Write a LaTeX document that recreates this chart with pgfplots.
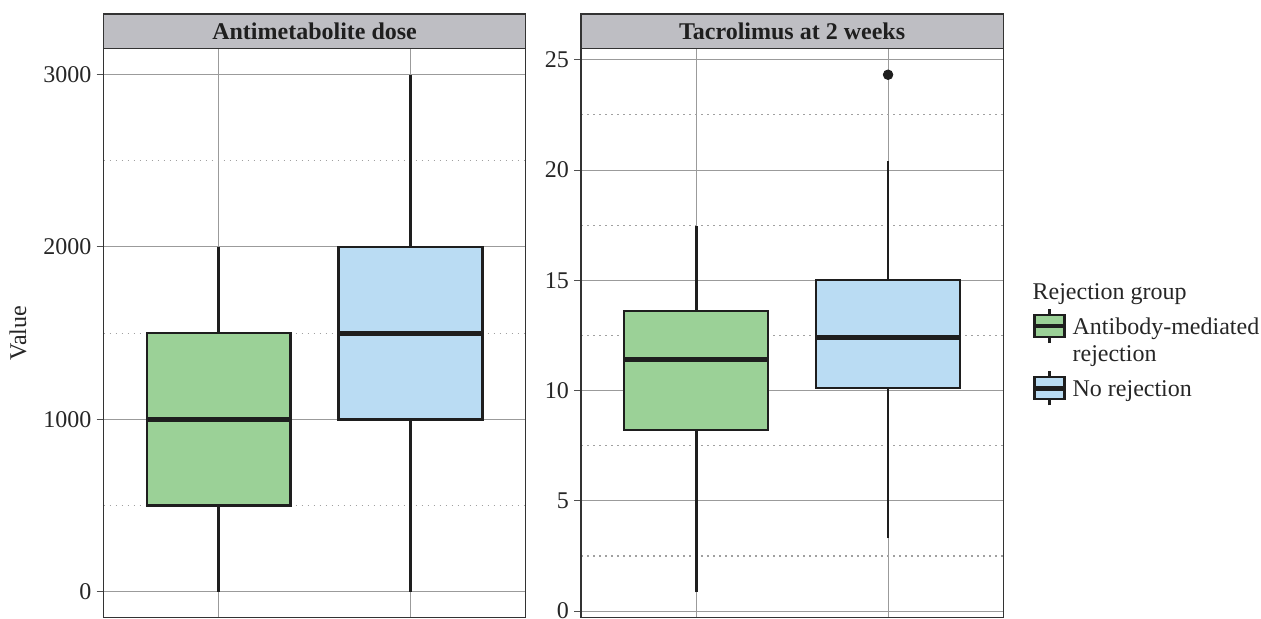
\documentclass[border=0pt]{standalone}
\usepackage{fontspec}
\setmainfont{Liberation Serif}
\usepackage{pgfplots}
\pgfplotsset{compat=1.18}

\definecolor{amrgreen}{RGB}{155,209,151}
\definecolor{norejblue}{RGB}{186,220,243}
\definecolor{boxline}{RGB}{30,30,30}
\definecolor{panelframe}{RGB}{51,51,51}
\definecolor{stripfill}{RGB}{190,190,195}
\definecolor{gridmajor}{RGB}{155,155,155}
\definecolor{gridminor}{RGB}{160,160,160}
\definecolor{tickgray}{RGB}{80,80,80}

% legend glyph: a small box with whisker stubs and a median bar
\newcommand\boxkey[1]{%
  \draw[boxline, line width=1.1pt] (7.5pt,-4.5pt) -- (7.5pt,12.5pt);
  \draw[boxline, line width=1.1pt, fill=#1] (0pt,-1.5pt) rectangle (15pt,9.5pt);
  \draw[boxline, line width=2.2pt] (0pt,4pt) -- (15pt,4pt);
}

% one box: #1 position, #2 lower whisker, #3 Q1, #4 median, #5 Q3, #6 upper whisker, #7 fill
\newcommand\boxat[7]{%
  \pgfmathsetmacro\bl{#1-0.375}\pgfmathsetmacro\br{#1+0.375}%
  \edef\doboxes{%
    \noexpand\addplot[boxline, line width=1.4pt, forget plot] coordinates {(#1,#2) (#1,#3)};
    \noexpand\addplot[boxline, line width=1.4pt, forget plot] coordinates {(#1,#5) (#1,#6)};
    \noexpand\addplot[draw=boxline, fill=#7, line width=1.15pt, line join=miter, forget plot]
      coordinates {(\bl,#3) (\br,#3) (\br,#5) (\bl,#5)} -- cycle;
    \noexpand\addplot[boxline, line width=2.5pt, forget plot] coordinates {(\bl,#4) (\br,#4)};
  }%
  \doboxes
}

\pgfplotsset{
  facet/.style={
    scale only axis, width=211.1pt, height=284.5pt,
    anchor=south west, clip=false,
    xmin=0.4, xmax=2.6, xtick={1,2}, xticklabels={},
    major x tick style={draw=none},
    ytick pos=left,
    xmajorgrids, ymajorgrids, yminorgrids, minor y tick num=1,
    major grid style={gridmajor, line width=0.5pt},
    minor grid style={gridminor, line width=0.6pt, dash pattern=on 0.9pt off 2.1pt},
    minor y tick style={draw=none},
    major y tick style={tickgray, line width=0.5pt},
    tick align=outside, major tick length=3.5pt,
    axis line style={panelframe, line width=0.6pt},
    ticklabel style={font=\fontsize{12}{14}\selectfont, text=black!85},
    yticklabel style={xshift=1pt},
    /pgf/number format/assume math mode=true,
    /pgf/number format/1000 sep={},
    every axis title shift=0pt,
    title style={at={(0.5,1)}, anchor=south, yshift=0pt,
      fill=stripfill, draw=panelframe, line width=0.6pt,
      minimum width=211.1pt, minimum height=17.35pt, inner sep=0pt, outer sep=0pt,
      text height=8.3pt, text depth=0pt,
      font=\bfseries\fontsize{12}{14}\selectfont, text=black!88},
  },
}

\begin{document}
\begin{tikzpicture}
\path[use as bounding box] (0,0) rectangle (630.5pt,309pt);

% left panel: antimetabolite dose
\begin{axis}[facet, at={(51.75pt,0.15pt)},
  title={Antimetabolite dose},
  ymin=-150, ymax=3150, ytick={0,1000,2000,3000},
  ylabel={Value},
  ylabel style={at={(axis description cs:-0.2025,0.5)}, anchor=center,
    font=\fontsize{12}{14}\selectfont, text=black!85}]
\boxat{1}{0}{500}{1000}{1500}{2000}{amrgreen}
\boxat{2}{0}{1000}{1500}{2000}{3000}{norejblue}
\end{axis}

% right panel: tacrolimus level at 2 weeks
\begin{axis}[facet, at={(290.5pt,0.15pt)},
  title={Tacrolimus at 2 weeks},
  ymin=-0.3, ymax=25.5, ytick={0,5,10,15,20,25},
  legend style={at={(axis description cs:1.0687,0.5443)}, anchor=north west,
    draw=none, fill=none, inner sep=0pt, outer sep=0pt, row sep=0pt,
    cells={anchor=base west},
    nodes={inner sep=0pt, text=black!85, text height=8.5pt, text depth=2.6pt},
    /tikz/every odd column/.style={column sep=3pt},
    font=\fontsize{12}{13}\selectfont}]
\boxat{1}{0.85}{8.22}{11.42}{13.6}{17.48}{amrgreen}
\boxat{2}{3.3}{10.12}{12.4}{15.0}{20.4}{norejblue}
\addplot[only marks, mark=*, mark size=2.4pt, color=boxline, forget plot]
  coordinates {(2,24.32)};
\addlegendimage{legend image code/.code={\boxkey{amrgreen}}}
\addlegendentry{Antibody-mediated}
\addlegendimage{legend image code/.code={}}
\addlegendentry[text depth=4.5pt]{rejection}
\addlegendimage{legend image code/.code={\boxkey{norejblue}}}
\addlegendentry{No rejection}
\node[anchor=base west, inner sep=0pt, font=\fontsize{12}{14}\selectfont, text=black!85]
  at (axis description cs:1.0687,0.5584) {Rejection group};
\end{axis}
\end{tikzpicture}
\end{document}
